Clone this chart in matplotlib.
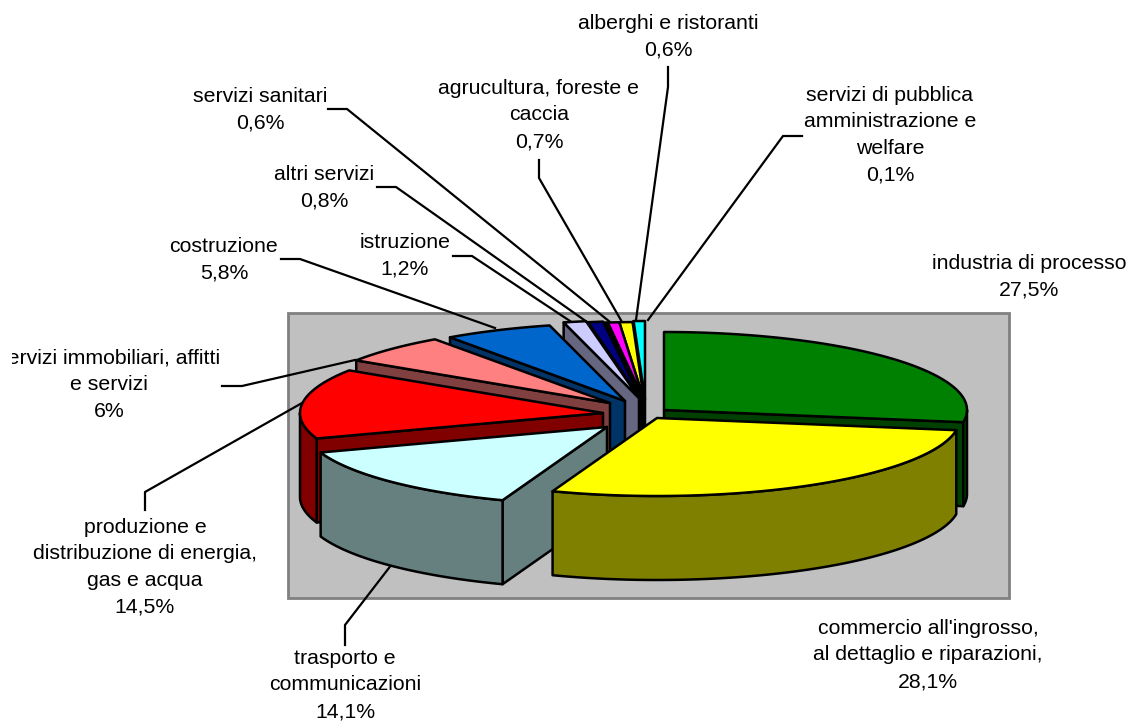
import numpy as np
import matplotlib
matplotlib.use('Agg')
import matplotlib.pyplot as plt
from matplotlib.patches import Polygon, Rectangle

plt.rcParams['font.family'] = ['Liberation Sans', 'DejaVu Sans']

# share of each sector, clockwise from 12 o'clock
categories = ['industria', 'commercio', 'trasporto', 'energia', 'immobiliari', 'costruzione',
              'istruzione', 'altri servizi', 'pubblica amministrazione', 'sanitari',
              'agricoltura', 'alberghi']
values = [27.5, 28.1, 14.1, 14.5, 6.0, 5.8, 1.2, 0.8, 0.1, 0.6, 0.7, 0.6]
top_colors = ['#008000', '#FFFF00', '#CCFFFF', '#FF0000', '#FF8080', '#0066CC',
              '#CCCCFF', '#000080', '#800080', '#FF00FF', '#FFFF00', '#00FFFF']
side_colors = ['#004000', '#808000', '#668080', '#800000', '#804040', '#003366',
               '#666680', '#000040', '#400040', '#800080', '#808000', '#008080']

# each slice was dragged by hand in the original, so every apex has its own place
apex_x = [664, 657, 607, 603, 610, 625, 639, 641, 643, 644, 644, 645]
apex_y = [410, 418, 427, 413, 403, 401, 398, 399, 400, 400, 400, 399]
rx = 303
ry = 78
depth = 84
# back to front
draw_order = [11, 10, 9, 8, 7, 6, 5, 4, 3, 2, 0, 1]

labels = [
    ('alberghi e ristoranti\n0,6%', 668, 37),
    ('servizi di pubblica\namministrazione e\nwelfare\n0,1%', 890, 135),
    ('agrucultura, foreste e\ncaccia\n0,7%', 539, 115),
    ('servizi sanitari\n0,6%', 260, 110),
    ('altri servizi\n0,8%', 324, 188),
    ('istruzione\n1,2%', 405, 256),
    ('costruzione\n5,8%', 224, 260),
    ('industria di processo\n27,5%', 1029, 277),
    ('produzione e\ndistribuzione di energia,\ngas e acqua\n14,5%', 145, 567),
    ('trasporto e\ncommunicazioni\n14,1%', 345, 685),
    ("commercio all'ingrosso,\nal dettaglio e riparazioni,\n28,1%", 928, 655),
]

leaders = [
    [(668, 67), (668, 87), (636, 320)],
    [(802, 136), (783, 136), (648, 320)],
    [(539, 160), (539, 178), (622, 322)],
    [(328, 109), (347, 109), (610, 322)],
    [(377, 187), (396, 187), (587, 322)],
    [(453, 256), (472, 256), (573, 323)],
    [(281, 259), (300, 259), (495, 328)],
    [(222, 386), (242, 386), (355, 360)],
    [(145, 510), (145, 492), (302, 403)],
    [(345, 645), (345, 625), (392, 564)],
]

fig = plt.figure(figsize=(11.41, 7.27), dpi=100)
ax = fig.add_axes([0, 0, 1, 1])
ax.set_xlim(0, 1141)
ax.set_ylim(727, 0)
ax.axis('off')

ax.add_patch(Rectangle((288, 313), 721, 285, fc='#C0C0C0', ec='#808080', lw=2, zorder=1))

for pts in leaders:
    xs, ys = zip(*pts)
    ax.plot(xs, ys, color='black', lw=1.6, zorder=2)


def rim_point(i, theta):
    t = np.radians(theta)
    return apex_x[i] + rx * np.sin(t), apex_y[i] - ry * np.cos(t)


edges = np.concatenate([[0], np.cumsum(values)]) / sum(values) * 360
z = 3
for i in draw_order:
    a, b = edges[i], edges[i + 1]
    side = dict(fc=side_colors[i], ec='black', lw=1.8, joinstyle='round')
    top = dict(fc=top_colors[i], ec='black', lw=1.8, joinstyle='round')
    p1 = rim_point(i, a)
    p2 = rim_point(i, b)
    apex = (apex_x[i], apex_y[i])
    # radial faces that look towards the viewer
    if 180 <= a < 360:
        ax.add_patch(Polygon([apex, p1, (p1[0], p1[1] + depth), (apex[0], apex[1] + depth)], zorder=z, **side))
    if 0 < b <= 180:
        ax.add_patch(Polygon([apex, p2, (p2[0], p2[1] + depth), (apex[0], apex[1] + depth)], zorder=z, **side))
    # outer rim, only the front half of the ellipse
    lo, hi = max(a, 90), min(b, 270)
    if hi > lo:
        x, y = rim_point(i, np.linspace(lo, hi, 80))
        ax.add_patch(Polygon(np.r_[np.c_[x, y], np.c_[x, y + depth][::-1]], zorder=z, **side))
    # top face
    x, y = rim_point(i, np.linspace(a, b, 120))
    ax.add_patch(Polygon(np.r_[[apex], np.c_[x, y]], zorder=z, **top))
    z += 1

for txt, x, y in labels:
    ax.text(x, y, txt, ha='center', va='center', ma='center', fontsize=15.3, linespacing=1.5, zorder=30)

# this label runs off the left edge of the chart area in the original
t = ax.text(109, 385, 'servizi immobiliari, affitti\ne servizi\n6%', ha='center', va='center', ma='center',
            fontsize=15.3, linespacing=1.5, zorder=30)
t.set_clip_path(Rectangle((12, 340), 300, 90, transform=ax.transData))
t.set_clip_on(True)

fig.savefig('out.png', dpi=100)
